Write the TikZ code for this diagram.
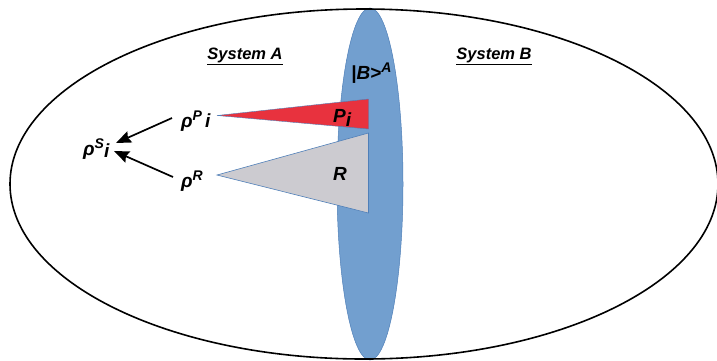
\documentclass[tikz,border=0pt]{standalone}
\usepackage{fontspec}
\setmainfont{Liberation Sans}
\usetikzlibrary{arrows.meta}
\definecolor{bluefill}{HTML}{729FCF}
\definecolor{blueline}{HTML}{4F7FB8}
\definecolor{redfill}{HTML}{E8323E}
\definecolor{grayfill}{HTML}{CCCBD0}
\newcommand{\upsc}[1]{\raisebox{0.75ex}{\fontsize{14}{14}\selectfont #1}}
\tikzset{
  lbl/.style={font=\bfseries\itshape\fontsize{19}{21}\selectfont, inner sep=1pt},
  title/.style={font=\bfseries\itshape\fontsize{16.5}{19}\selectfont, inner sep=1pt},
  arr/.style={-{Stealth[length=15pt,width=12pt,inset=2pt]}, line width=1.7pt},
}
\begin{document}
\begin{tikzpicture}[x=1pt,y=-1pt]
\useasboundingbox (0,0) rectangle (717,360);
% blue ellipse
\fill[bluefill, draw=blueline, line width=0.5pt] (370,184) ellipse [x radius=33, y radius=176];
% outer ellipse
\draw[line width=1.6pt] (364,184) ellipse [x radius=354, y radius=175];
% triangles
\filldraw[fill=redfill, draw=blueline, line width=0.4pt] (217,115.5) -- (368.5,99) -- (368.5,129) -- cycle;
\filldraw[fill=grayfill, draw=blueline, line width=0.6pt] (217,175) -- (368.5,133) -- (368.5,213) -- cycle;
% titles
\node[title] (sa) at (245,56) {\underline{System A}};
\node[title] (sb) at (494,56) {\underline{System B}};
\node[lbl, anchor=west] (ba) at (350,73) {|B>\upsc{A}};
\node[lbl, anchor=west] (pi) at (332,118) {P\raisebox{-0.35ex}{i}};
\node[lbl] (r) at (340,174) {R};
\node[lbl, anchor=west] (rp) at (180,121) {ρ\upsc{P}\,i};
\node[lbl, anchor=west] (rr) at (180,181) {ρ\upsc{R}};
\node[lbl, anchor=west] (rs) at (82,149) {ρ\upsc{S}\raisebox{-0.2ex}{i}};
\coordinate (a1) at (172,118);
\coordinate (a2) at (173,177);
\draw[arr] (a1) -- (116,143);
\draw[arr] (a2) -- (114,151);
\end{tikzpicture}
\end{document}
